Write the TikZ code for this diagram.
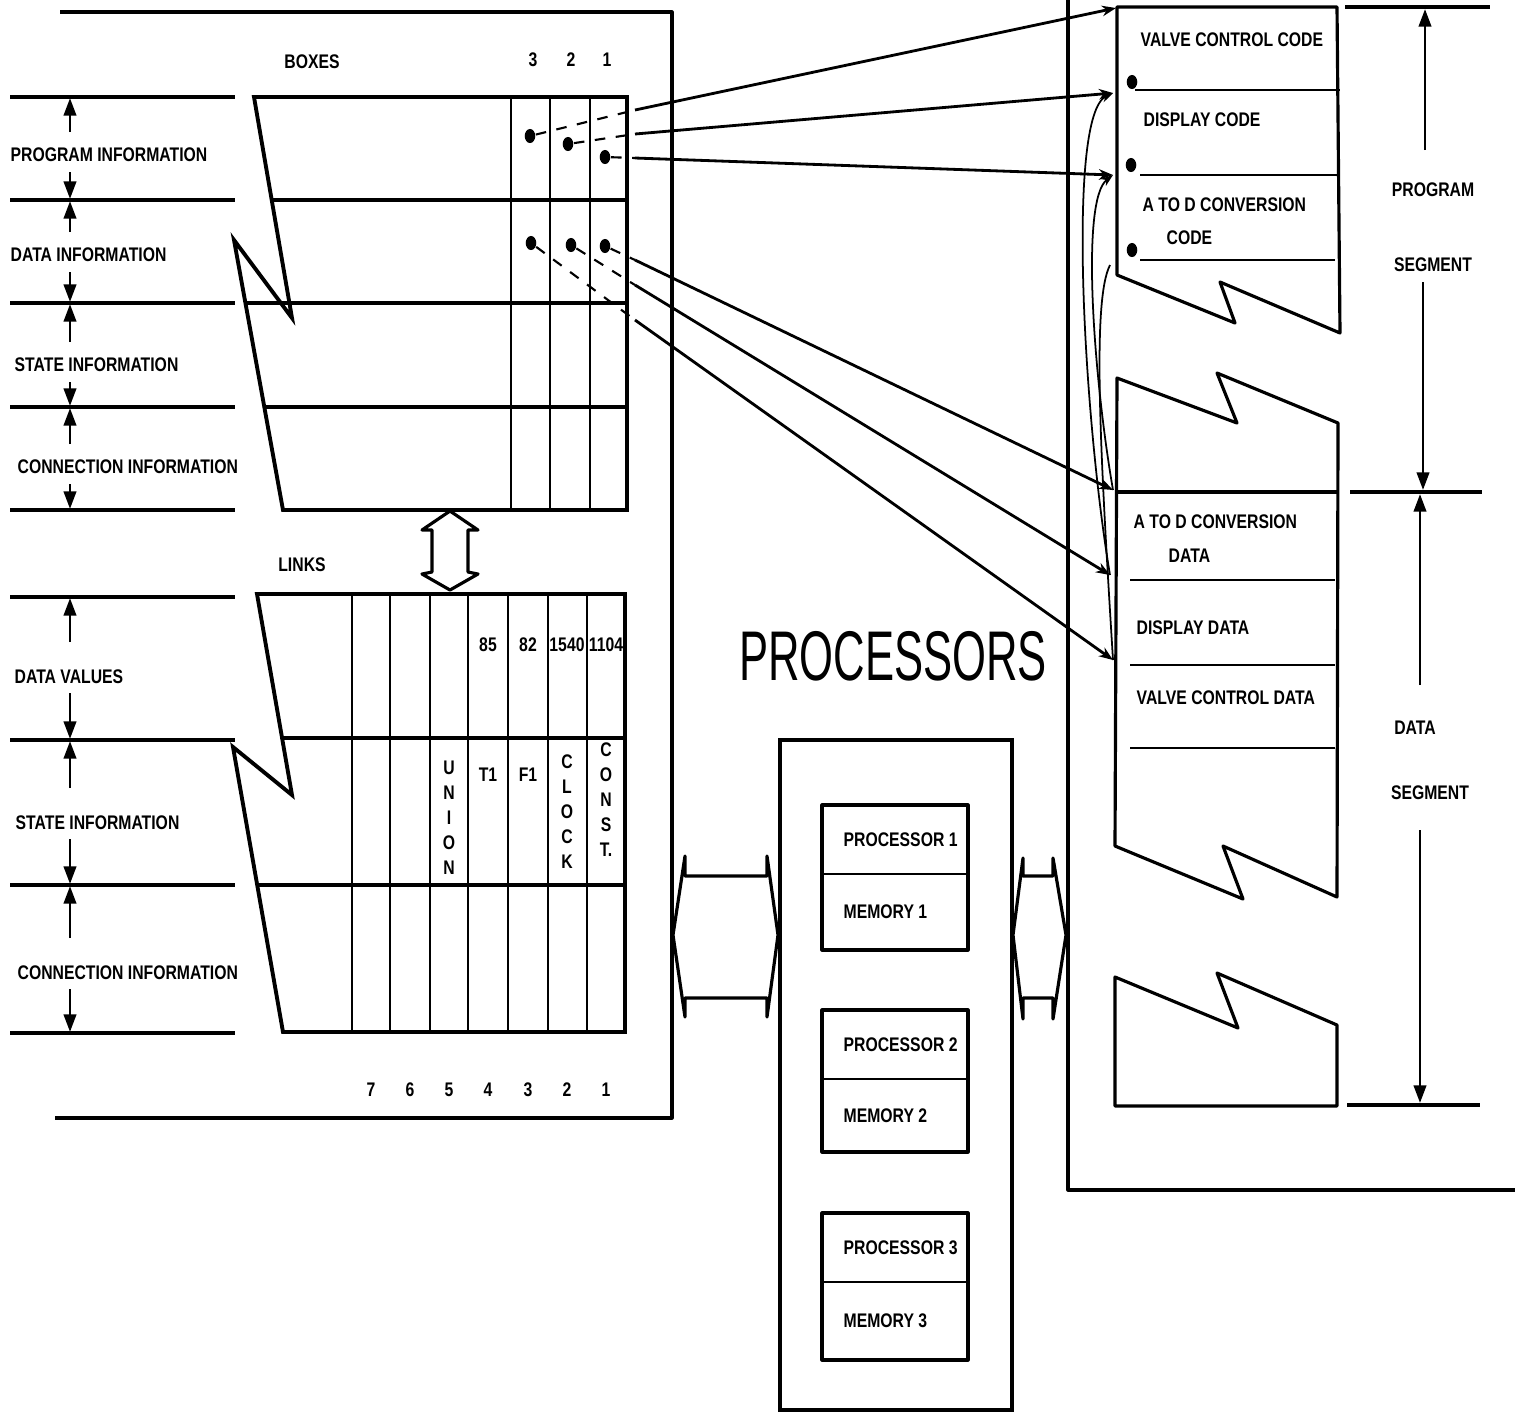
\documentclass[tikz,border=0pt]{standalone}
\usepackage{fontspec}
\setmainfont{Liberation Sans}
\newfontfamily\narrowfont{Liberation Sans}[FakeStretch=0.8]
\newfontfamily\bigfont{Liberation Sans}[FakeStretch=0.62]
\usetikzlibrary{arrows.meta, shapes.geometric}

\begin{document}
\begin{tikzpicture}[
  x=0.01cm, y=-0.01cm,
  lbl/.style={font=\narrowfont\bfseries\fontsize{5.6}{6.2}\selectfont, inner sep=0pt},
  vlbl/.style={lbl, align=center, font=\narrowfont\bfseries\fontsize{5.6}{7.1}\selectfont},
  tabrule/.style={line width=1.1pt},
  thinrule/.style={line width=0.6pt},
  outline/.style={line width=0.9pt, line join=round},
  dim/.style={line width=0.8pt, -{Triangle[length=5pt,width=3.5pt]}},
  ptr/.style={line width=0.8pt, -{Stealth[length=4pt,width=3pt]}},
  backptr/.style={line width=0.5pt, -{Stealth[length=3.5pt,width=2.5pt]}},
  dotmark/.style={ellipse, fill, inner sep=0pt, minimum width=3pt, minimum height=4pt}
]
  \useasboundingbox (0,0) rectangle (1515,1414);

  % frames
  \draw[outline] (60,12) -- (672,12) -- (672,1118) -- (55,1118);
  \draw[outline] (1068,0) -- (1068,1190) -- (1515,1190);

  % boxes
  \node[lbl] (boxes) at (312,62) {BOXES};
  \node[lbl] (bx3) at (533,60) {3};
  \node[lbl] (bx2) at (571,60) {2};
  \node[lbl] (bx1) at (607,60) {1};
  \draw[tabrule] (627,97) -- (254,97) -- (292,318) -- (234,240) -- (283,510) -- (627,510) -- cycle;
  \draw[tabrule] (272,200) -- (627,200);
  \draw[tabrule] (245,303) -- (627,303);
  \draw[tabrule] (264,407) -- (627,407);
  \foreach \x in {511,550,590}
    \draw[thinrule] (\x,97) -- (\x,510);

  \foreach \y in {97,200,303,407,510}
    \draw[tabrule] (10,\y) -- (235,\y);
  \foreach \ya/\ym/\yb in {97/155/200, 200/255/303, 303/365/407, 407/467/510}{
    \draw[dim] (70,\ym-23) -- (70,\ya+1);
    \draw[dim] (70,\ym+17) -- (70,\yb-1);
  }
  \node[lbl, anchor=west] (proginfo) at (10,155) {PROGRAM  INFORMATION};
  \node[lbl, anchor=west] (datainfo) at (10,255) {DATA  INFORMATION};
  \node[lbl, anchor=west] (stateinfo) at (14,365) {STATE  INFORMATION};
  \node[lbl, anchor=west] (conninfo) at (17,467) {CONNECTION INFORMATION};

  % hollow arrow boxes <-> links
  \draw[outline] (450,511) -- (478,530) -- (468,530) -- (468,572) -- (478,574) -- (450,590)
    -- (422,574) -- (432,572) -- (432,530) -- (422,530) -- cycle;

  % links
  \node[lbl] (links) at (302,565) {LINKS};
  \draw[tabrule] (625,594) -- (257,594) -- (292,795) -- (233,747) -- (283,1032) -- (625,1032) -- cycle;
  \draw[tabrule] (282,738) -- (625,738);
  \draw[tabrule] (257,885) -- (625,885);
  \foreach \x in {352,390,430,468,508,548,587}
    \draw[thinrule] (\x,594) -- (\x,1032);

  \foreach \y in {597,740,885,1033}
    \draw[tabrule] (10,\y) -- (235,\y);
  \foreach \ya/\ym/\yb in {597/677/740, 740/823/885, 885/973/1033}{
    \draw[dim] (70,\ym-35) -- (70,\ya+1);
    \draw[dim] (70,\ym+16) -- (70,\yb-1);
  }
  \node[lbl, anchor=west] (datavals) at (14,677) {DATA  VALUES};
  \node[lbl, anchor=west] (lstate) at (15,823) {STATE  INFORMATION};
  \node[lbl, anchor=west] (lconn) at (17,973) {CONNECTION  INFORMATION};

  \node[lbl] (v85) at (488,645) {85};
  \node[lbl] (v82) at (528,645) {82};
  \node[lbl] (v1540) at (567,645) {1540};
  \node[lbl] (v1104) at (606,645) {1104};
  \node[vlbl] (union) at (449,818) {U\\N\\I\\O\\N};
  \node[lbl] (t1) at (488,775) {T1};
  \node[lbl] (f1) at (528,775) {F1};
  \node[vlbl] (clock) at (567,812) {C\\L\\O\\C\\K};
  \node[vlbl] (const) at (606,800) {C\\O\\N\\S\\T.};
  \foreach \x/\n in {371/7, 410/6, 449/5, 488/4, 528/3, 567/2, 606/1}
    \node[lbl] (ln\n) at (\x,1090) {\n};

  % pointers from boxes to segments
  \node[dotmark] (p3) at (530,136) {};
  \node[dotmark] (p2) at (568,144) {};
  \node[dotmark] (p1) at (605,157) {};
  \node[dotmark] (d3) at (531,243) {};
  \node[dotmark] (d2) at (571,245) {};
  \node[dotmark] (d1) at (605,246) {};
  \coordinate (sA) at (635,110);
  \coordinate (sB) at (635,134);
  \coordinate (sC) at (635,158);
  \coordinate (sD) at (635,260);
  \coordinate (sE) at (635,285);
  \coordinate (sF) at (635,320);
  \coordinate (tA) at (1116,8);
  \coordinate (tB) at (1113,93);
  \coordinate (tC) at (1113,175);
  \coordinate (tD) at (1113,490);
  \coordinate (tE) at (1110,575);
  \coordinate (tF) at (1113,660);
  \coordinate (tG) at (1110,265);
  \draw[thinrule, dashed] (p3) -- (sA);
  \draw[thinrule, dashed] (p2) -- (sB);
  \draw[thinrule, dashed] (p1) -- (sC);
  \draw[thinrule, dashed] (d1) -- (sD);
  \draw[thinrule, dashed] (d2) -- (sE);
  \draw[thinrule, dashed] (d3) -- (sF);
  \draw[ptr] (sA) -- (tA);
  \draw[ptr] (sB) -- (tB);
  \draw[ptr] (sC) -- (tC);
  \draw[ptr] (sD) -- (tD);
  \draw[ptr] (sE) -- (tE);
  \draw[ptr] (sF) -- (tF);
  \draw[backptr] (tE) .. controls (1084,420) and (1066,115) .. (tB);
  \draw[backptr] (tD) .. controls (1094,380) and (1080,200) .. (tC);
  \draw[line width=0.5pt] (tF) .. controls (1100,450) and (1092,300) .. (tG);

  % program segment
  \draw[outline] (1117,275) -- (1235,323) -- (1220,282) -- (1340,333) -- (1337,7) -- (1117,7) -- cycle;
  \draw[thinrule] (1135,90) -- (1340,90);
  \draw[thinrule] (1140,175) -- (1337,175);
  \draw[thinrule] (1140,260) -- (1335,260);
  \node[dotmark] (cv) at (1132,82) {};
  \node[dotmark] (cd) at (1131,165) {};
  \node[dotmark] (ca) at (1132,250) {};
  \node[lbl, anchor=west] (vcc) at (1140,40) {VALVE CONTROL CODE};
  \node[lbl, anchor=west] (dcode) at (1143,120) {DISPLAY  CODE};
  \node[lbl, anchor=west] (adcode) at (1142,205) {A  TO D   CONVERSION};
  \node[lbl, anchor=west] (adcode2) at (1166,238) {CODE};

  % middle and data segment
  \draw[outline] (1117,378) -- (1237,423) -- (1217,373) -- (1338,423) -- (1337,897)
    -- (1223,846) -- (1243,899) -- (1115,846) -- cycle;
  \draw[tabrule] (1115,492) -- (1337,492);
  \draw[thinrule] (1130,580) -- (1335,580);
  \draw[thinrule] (1130,665) -- (1335,665);
  \draw[thinrule] (1130,748) -- (1335,748);
  \node[lbl, anchor=west] (addata) at (1133,522) {A  TO  D  CONVERSION};
  \node[lbl, anchor=west] (addata2) at (1168,556) {DATA};
  \node[lbl, anchor=west] (ddata) at (1136,628) {DISPLAY  DATA};
  \node[lbl, anchor=west] (vcdata) at (1136,698) {VALVE  CONTROL DATA};
  \draw[outline] (1115,977) -- (1238,1028) -- (1217,973) -- (1337,1025) -- (1337,1106) -- (1115,1106) -- cycle;

  % segment extents
  \draw[tabrule] (1345,7) -- (1490,7);
  \draw[tabrule] (1350,492) -- (1482,492);
  \draw[tabrule] (1347,1105) -- (1480,1105);
  \draw[dim] (1425,150) -- (1425,9);
  \draw[dim] (1423,282) -- (1423,490);
  \draw[dim] (1420,685) -- (1420,494);
  \draw[dim] (1420,830) -- (1420,1103);
  \node[lbl] (progseg) at (1433,190) {PROGRAM};
  \node[lbl] (progseg2) at (1433,265) {SEGMENT};
  \node[lbl] (dataseg) at (1415,728) {DATA};
  \node[lbl] (dataseg2) at (1430,793) {SEGMENT};

  % processors
  \node[font=\bigfont\fontsize{20}{22}\selectfont, inner sep=0pt] (proctitle) at (893,656) {PROCESSORS};
  \draw[tabrule] (780,740) rectangle (1012,1410);
  \foreach \ya/\yd/\yb/\n in {805/874/950/1, 1010/1079/1152/2, 1213/1282/1360/3}{
    \draw[outline] (822,\ya) rectangle (968,\yb);
    \draw[thinrule] (822,\yd) -- (968,\yd);
    \node[lbl, anchor=west] (proc\n) at (843,{(\ya+\yd)/2}) {PROCESSOR \n};
    \node[lbl, anchor=west] (mem\n) at (843,{(\yd+\yb)/2}) {MEMORY \n};
  }
  \draw[outline] (685,856) -- (685,876) -- (767,876) -- (767,856) -- (778,935) -- (767,1017)
    -- (767,998) -- (685,998) -- (685,1017) -- (673,935) -- cycle;
  \draw[outline] (1023,858) -- (1023,876) -- (1053,876) -- (1053,858) -- (1066,935) -- (1053,1019)
    -- (1053,998) -- (1023,998) -- (1023,1019) -- (1013,935) -- cycle;
\end{tikzpicture}
\end{document}
